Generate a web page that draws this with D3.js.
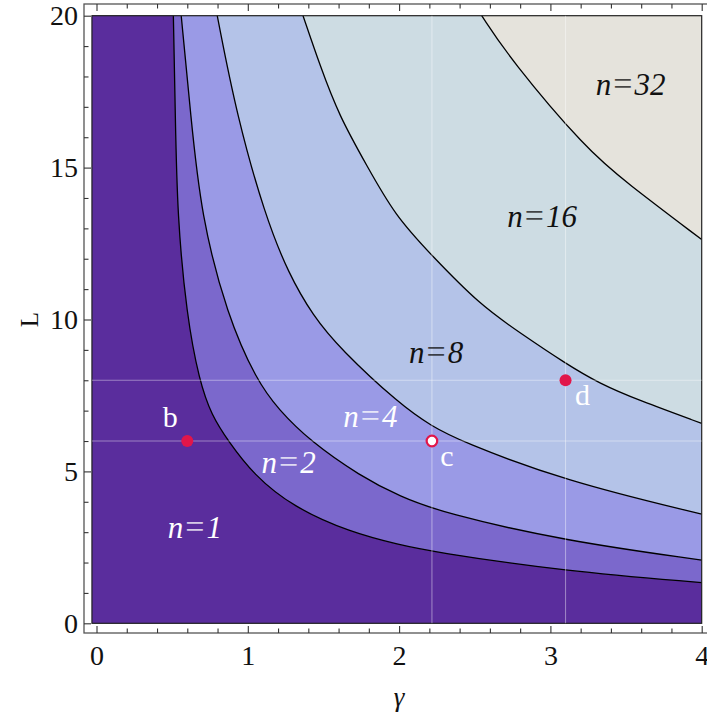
<!DOCTYPE html>
<html>
<head>
<meta charset="utf-8">
<script src="https://cdn.jsdelivr.net/npm/d3@7"></script>
<style>
  body { margin: 0; background: #fff; }
</style>
</head>
<body>
<script>
const w = 707;
const h = 718;
const serif = '"Liberation Serif", "Times New Roman", serif';

// contour boundaries, [gamma, L]
const bound1to2 = [[0.508, 20], [0.521, 16.71], [0.534, 13.42], [0.596, 10.13], [0.679, 7.99], [0.761, 6.84],
  [0.871, 6.0], [1.036, 4.9], [1.301, 3.82], [1.676, 3.0], [2.006, 2.58], [2.215, 2.36], [3.097, 1.71], [4.0, 1.34]];
const bound2to4 = [[0.560, 20], [0.623, 16.71], [0.691, 13.42], [0.864, 10.13], [1.059, 7.99], [1.202, 7.04],
  [1.411, 6.0], [1.742, 4.85], [2.006, 4.17], [2.292, 3.63], [3.097, 2.71], [4.0, 2.08]];
const bound4to8 = [[0.798, 20], [0.927, 16.71], [1.114, 13.42], [1.27, 11.5], [1.43, 10.13],
  [1.609, 9.04], [2.006, 7.20], [2.215, 6.49], [2.402, 6.0], [3.097, 4.68], [4.0, 3.59]];
const bound8to16 = [[1.365, 20], [1.477, 18.36], [1.603, 16.71], [1.786, 15.07], [1.973, 13.42], [2.215, 12.11],
  [2.535, 10.48], [2.799, 9.56], [3.097, 8.56], [3.328, 7.88], [3.579, 7.35], [4.0, 6.58]];
const bound16to32 = [[2.546, 20], [2.733, 18.58], [3.240, 15.59], [3.504, 14.50], [4.0, 12.63]];

const boundaries = [bound16to32, bound8to16, bound4to8, bound2to4, bound1to2];
const regionColors = ['#cddce3', '#b4c3e8', '#9a9ae6', '#7b68cc', '#5a2d9d'];
const topColor = '#e5e3dc';

const regionLabels = [
  { n: '1', g: 0.65, L: 2.8, color: '#fff' },
  { n: '2', g: 1.27, L: 4.95, color: '#fff' },
  { n: '4', g: 1.81, L: 6.45, color: '#fff' },
  { n: '8', g: 2.245, L: 8.57, color: '#111' },
  { n: '16', g: 2.945, L: 13.05, color: '#111' },
  { n: '32', g: 3.53, L: 17.4, color: '#111' }
];

const points = [
  { name: 'b', g: 0.6, L: 6, open: false, dx: -17, dy: -14 },
  { name: 'c', g: 2.217, L: 6, open: true, dx: 15, dy: 25 },
  { name: 'd', g: 3.1, L: 8, open: false, dx: 17, dy: 25 }
];
const gridGamma = [2.217, 3.1];
const gridL = [6, 8];

const xTicks = [0, 1, 2, 3, 4];
const yTicks = [0, 5, 10, 15, 20];

const gMin = -0.03;
const xScale = d3.scaleLinear().domain([0, 4]).range([96.5, 701.7]);
const yScale = d3.scaleLinear().domain([0, 20]).range([623.3, 15.7]);

const svg = d3.select('body')
  .append('svg')
  .attr('width', w)
  .attr('height', h)
  .attr('font-family', serif);

// top region colour as background of plot area
svg.append('rect')
  .attr('x', xScale(gMin))
  .attr('y', yScale(20))
  .attr('width', xScale(4) - xScale(gMin))
  .attr('height', yScale(0) - yScale(20))
  .attr('fill', topColor);

const line = d3.line()
  .x((d) => xScale(d[0]))
  .y((d) => yScale(d[1]))
  .curve(d3.curveBasis);

boundaries.forEach((b, i) => {
  svg.append('path')
    .attr('d', line(b) + 'L' + xScale(4) + ',' + yScale(0) + 'L' + xScale(gMin) + ',' + yScale(0) +
      'L' + xScale(gMin) + ',' + yScale(20) + 'Z')
    .attr('fill', regionColors[i]);
});

boundaries.forEach((b) => {
  svg.append('path')
    .attr('d', line(b))
    .attr('fill', 'none')
    .attr('stroke', '#000')
    .attr('stroke-width', 1.3);
});

// plot region outline
svg.append('rect')
  .attr('x', xScale(gMin))
  .attr('y', yScale(20))
  .attr('width', xScale(4) - xScale(gMin))
  .attr('height', yScale(0) - yScale(20))
  .attr('fill', 'none')
  .attr('stroke', '#222')
  .attr('stroke-width', 1.2);

// light grid lines through the marked points
svg.selectAll('.vgrid')
  .data(gridGamma)
  .enter()
  .append('line')
  .attr('x1', (d) => xScale(d))
  .attr('x2', (d) => xScale(d))
  .attr('y1', yScale(20))
  .attr('y2', yScale(0))
  .attr('stroke', '#fff')
  .attr('stroke-opacity', 0.4)
  .attr('stroke-width', 1.1);
svg.selectAll('.hgrid')
  .data(gridL)
  .enter()
  .append('line')
  .attr('x1', xScale(gMin))
  .attr('x2', xScale(4))
  .attr('y1', (d) => yScale(d))
  .attr('y2', (d) => yScale(d))
  .attr('stroke', '#fff')
  .attr('stroke-opacity', 0.4)
  .attr('stroke-width', 1.1);

// region labels
regionLabels.forEach((d) => {
  const t = svg.append('text')
    .attr('x', xScale(d.g))
    .attr('y', yScale(d.L))
    .attr('text-anchor', 'middle')
    .attr('font-size', 31)
    .attr('fill', d.color);
  t.append('tspan').attr('font-style', 'italic').text('n');
  t.append('tspan').attr('dx', 2).attr('font-size', 34).attr('opacity', 0.75).text('=');
  t.append('tspan').attr('dx', 2).attr('font-style', 'italic').text(d.n);
});

// marked points
points.forEach((p) => {
  svg.append('circle')
    .attr('cx', xScale(p.g))
    .attr('cy', yScale(p.L))
    .attr('r', p.open ? 5.3 : 6)
    .attr('fill', p.open ? '#fff' : '#e1164a')
    .attr('stroke', p.open ? '#e1164a' : 'none')
    .attr('stroke-width', 2.2);
  svg.append('text')
    .attr('x', xScale(p.g) + p.dx)
    .attr('y', yScale(p.L) + p.dy)
    .attr('text-anchor', 'middle')
    .attr('font-size', 30)
    .attr('fill', '#fff')
    .text(p.name);
});

// frame
const frameLeft = 84;
const frameTop = 4;
const frameBottom = 633;
svg.append('rect')
  .attr('x', frameLeft)
  .attr('y', frameTop)
  .attr('width', 640)
  .attr('height', frameBottom - frameTop)
  .attr('fill', 'none')
  .attr('stroke', '#555')
  .attr('stroke-width', 1.3);

const xMinor = d3.range(0, 4.01, 0.2).filter((v) => Math.abs(v - Math.round(v)) > 1e-6);
const yMinor = d3.range(0, 20.01, 1).filter((v) => v % 5 !== 0);

function styleAxis(g) {
  g.attr('font-family', serif);
  g.select('.domain').remove();
  g.selectAll('line').attr('stroke', '#333').attr('stroke-width', 1.1);
  g.selectAll('text').attr('font-size', 28).attr('fill', '#111');
}

svg.append('g')
  .attr('transform', 'translate(0,' + frameBottom + ')')
  .call(d3.axisBottom(xScale).tickValues(xTicks).tickSize(-7).tickPadding(12).tickFormat(d3.format('d')))
  .call(styleAxis);
svg.append('g')
  .attr('transform', 'translate(0,' + frameBottom + ')')
  .call(d3.axisBottom(xScale).tickValues(xMinor).tickSize(-4.5).tickFormat(''))
  .call(styleAxis);
svg.append('g')
  .attr('transform', 'translate(0,' + frameTop + ')')
  .call(d3.axisTop(xScale).tickValues(xTicks).tickSize(-7).tickFormat(''))
  .call(styleAxis);
svg.append('g')
  .attr('transform', 'translate(0,' + frameTop + ')')
  .call(d3.axisTop(xScale).tickValues(xMinor).tickSize(-4.5).tickFormat(''))
  .call(styleAxis);
svg.append('g')
  .attr('transform', 'translate(' + frameLeft + ',0)')
  .call(d3.axisLeft(yScale).tickValues(yTicks).tickSize(-7).tickPadding(6).tickFormat(d3.format('d')))
  .call(styleAxis);
svg.append('g')
  .attr('transform', 'translate(' + frameLeft + ',0)')
  .call(d3.axisLeft(yScale).tickValues(yMinor).tickSize(-4.5).tickFormat(''))
  .call(styleAxis);

// axis titles
svg.append('text')
  .attr('transform', 'translate(38,' + yScale(10) + ') rotate(-90)')
  .attr('text-anchor', 'middle')
  .attr('font-size', 25)
  .attr('fill', '#111')
  .text('L');
svg.append('text')
  .attr('x', xScale(2))
  .attr('y', 706)
  .attr('text-anchor', 'middle')
  .attr('font-size', 27)
  .attr('font-style', 'italic')
  .attr('fill', '#111')
  .text('γ');
</script>
</body>
</html>
